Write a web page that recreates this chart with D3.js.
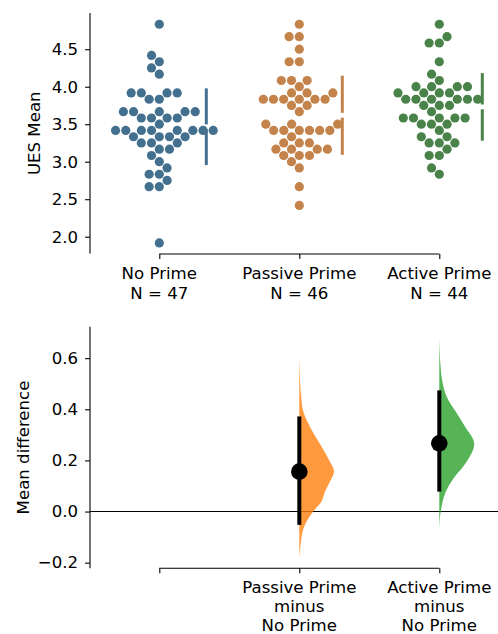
<!DOCTYPE html>
<html>
<head>
<meta charset="utf-8">
<script src="https://cdn.jsdelivr.net/npm/d3@7"></script>
<style>
  html, body { margin: 0; padding: 0; background: #fff; }
  svg { display: block; }
  text { font-family: "DejaVu Sans", sans-serif; fill: #000; }
</style>
</head>
<body>
<svg id="chart" width="498" height="634"></svg>
<script>
// ---------------- DATA ----------------
const categories = ["No Prime", "Passive Prime", "Active Prime"];

const noPrime = [4.833, 4.417, 4.333, 4.25, 4.167,
  3.917, 3.917, 3.917, 3.917, 3.833, 3.833,
  3.667, 3.667, 3.667, 3.667, 3.667, 3.583, 3.583, 3.583, 3.583, 3.5,
  3.417, 3.417, 3.417, 3.417, 3.417, 3.417, 3.417, 3.417, 3.333, 3.333, 3.333, 3.333,
  3.25, 3.25, 3.25, 3.167, 3.167, 3.083, 3.0,
  2.917, 2.833, 2.833, 2.75, 2.667, 2.667, 1.917];

const passivePrime = [4.833, 4.667, 4.667, 4.5, 4.333, 4.333,
  4.083, 4.083, 4.083, 4.0, 3.917, 3.917, 3.917,
  3.833, 3.833, 3.833, 3.833, 3.833, 3.833, 3.75, 3.75, 3.667,
  3.5, 3.5, 3.5, 3.417, 3.417, 3.417, 3.417, 3.417, 3.417, 3.333,
  3.25, 3.25, 3.25, 3.167, 3.167, 3.167, 3.167, 3.083, 3.083, 3.083,
  3.0, 2.917, 2.667, 2.417];

const activePrime = [4.833, 4.667, 4.583, 4.583, 4.333, 4.167, 4.083,
  4.0, 4.0, 4.0, 4.0, 3.917, 3.917, 3.917, 3.917,
  3.833, 3.833, 3.833, 3.833, 3.833, 3.833, 3.75, 3.75, 3.75, 3.667,
  3.583, 3.583, 3.583, 3.583, 3.583, 3.5, 3.5, 3.5, 3.417, 3.333, 3.333,
  3.25, 3.25, 3.25, 3.167, 3.083, 3.083, 2.917, 2.833];

const groupValues = [noPrime, passivePrime, activePrime];

const yTicksTop = [2.0, 2.5, 3.0, 3.5, 4.0, 4.5];
const yTicksBottom = [-0.2, 0.0, 0.2, 0.4, 0.6];

// contrasts (vs No Prime)
const contrastLabels = [["Passive Prime", "minus", "No Prime"], ["Active Prime", "minus", "No Prime"]];
const contrastIndex = [1, 2];
const meanDiff = [0.156, 0.267];
const ciLow = [-0.052, 0.078];
const ciHigh = [0.372, 0.474];

// bootstrap distribution profiles (value, relative density)
const passiveDistValue = [0.613, 0.457, 0.391, 0.326, 0.261, 0.196, 0.157, 0.117, 0.078, 0.039, 0.0, -0.039, -0.078, -0.130, -0.181];
const passiveDistDensity = [0, 0.05, 0.115, 0.33, 0.61, 0.88, 1.0, 0.88, 0.74, 0.64, 0.40, 0.21, 0.095, 0.037, 0];
const activeDistValue = [0.685, 0.581, 0.515, 0.450, 0.385, 0.333, 0.281, 0.254, 0.215, 0.176, 0.137, 0.098, 0.059, 0.020, -0.020, -0.072];
const activeDistDensity = [0, 0.03, 0.08, 0.21, 0.50, 0.74, 0.98, 1.0, 0.88, 0.69, 0.45, 0.26, 0.135, 0.066, 0.02, 0];
const distValues = [passiveDistValue, activeDistValue];
const distDensities = [passiveDistDensity, activeDistDensity];

// ---------------- STYLE / LAYOUT ----------------
const swarmColors = ["#44708f", "#c3834a", "#498349"];
const violinColors = ["#ff7f0e", "#2ca02c"];
const FONT = 16.6;
const barOffset = [47, 43, 43];

const svg = d3.select("#chart");

const x = d3.scalePoint().domain(categories).range([159.3, 439.3]);

// ---------------- TOP PANEL ----------------
const yTop = d3.scaleLinear().domain([1.776, 4.983]).range([253.5, 13]);
const axLeft = 90;

const fmtTick = d => d3.format(".1f")(d).replace("-", "\u2212");

// y axis
const gyTop = svg.append("g").attr("transform", `translate(${axLeft},0)`)
  .call(d3.axisLeft(yTop).tickValues(yTicksTop).tickFormat(fmtTick).tickSize(4.9).tickPadding(7));
gyTop.select(".domain").attr("d", `M0,${yTop.range()[0]}V${yTop.range()[1]}`);

// x axis (trimmed)
const gxTop = svg.append("g").attr("transform", `translate(0,254)`)
  .call(d3.axisBottom(x).tickSize(4.9).tickFormat(""));
gxTop.select(".domain").attr("d", `M${x(categories[0])},0H${x(categories[2])}`);

[gyTop, gxTop].forEach(g => {
  g.selectAll("path, line").attr("stroke", "#000").attr("stroke-width", 1.1);
  g.selectAll("text").attr("font-size", FONT).attr("font-family", "DejaVu Sans");
});

// category labels
categories.forEach((c, i) => {
  const t = svg.append("text").attr("text-anchor", "middle").attr("font-size", FONT);
  t.append("tspan").attr("x", x(c)).attr("y", 279).text(c);
  t.append("tspan").attr("x", x(c)).attr("y", 298.5).text(`N = ${groupValues[i].length}`);
});

svg.append("text").attr("transform", `translate(40,${(13 + 253.5) / 2}) rotate(-90)`)
  .attr("text-anchor", "middle").attr("font-size", FONT).text("UES Mean");

// seaborn-like beeswarm
function beeswarm(values, cx, yScale, r) {
  const pts = values.map(v => ({ v, x: cx, y: yScale(v), r }))
    .sort((a, b) => a.v - b.v);
  const swarm = [];
  for (const p of pts) {
    const neighbors = [];
    for (let k = swarm.length - 1; k >= 0; k--) {
      const q = swarm[k];
      if ((q.y - p.y) < (p.r + q.r)) neighbors.push(q); else break;
    }
    neighbors.reverse();
    const cands = [{ x: p.x }];
    let leftFirst = true;
    for (const q of neighbors) {
      const dy = q.y - p.y;
      const dx = Math.sqrt(Math.max((p.r + q.r) ** 2 - dy ** 2, 0)) * 1.05;
      const cl = { x: q.x - dx }, cr = { x: q.x + dx };
      if (leftFirst) cands.push(cl, cr); else cands.push(cr, cl);
      leftFirst = !leftFirst;
    }
    cands.forEach((c, i) => { c.off = Math.abs(c.x - cx); c.i = i; });
    cands.sort((a, b) => a.off - b.off || a.i - b.i);
    let chosen = cands[0];
    for (const c of cands) {
      const ok = neighbors.every(q => (q.x - c.x) ** 2 + (q.y - p.y) ** 2 >= (q.r + p.r) ** 2 - 1e-9);
      if (ok) { chosen = c; break; }
    }
    swarm.push({ v: p.v, x: chosen.x, y: p.y, r: p.r });
  }
  return swarm;
}

categories.forEach((c, i) => {
  const vals = groupValues[i];
  const mean = d3.mean(vals);
  const sd = d3.deviation(vals);
  const bx = x(c) + barOffset[i];
  const gap = 2.4;
  const g = svg.append("g");
  g.append("line").attr("x1", bx).attr("x2", bx)
    .attr("y1", yTop(mean + sd)).attr("y2", yTop(mean) - gap)
    .attr("stroke", swarmColors[i]).attr("stroke-width", 3);
  g.append("line").attr("x1", bx).attr("x2", bx)
    .attr("y1", yTop(mean) + gap).attr("y2", yTop(mean - sd))
    .attr("stroke", swarmColors[i]).attr("stroke-width", 3);
  const sw = beeswarm(vals, x(c), yTop, 4.85);
  svg.append("g").selectAll("circle").data(sw).join("circle")
    .attr("cx", d => d.x).attr("cy", d => d.y).attr("r", 4.6)
    .attr("fill", swarmColors[i]);
});

// ---------------- BOTTOM PANEL ----------------
const yBot = d3.scaleLinear().domain([-0.222, 0.723]).range([568.3, 326.7]);

const gyBot = svg.append("g").attr("transform", `translate(${axLeft},0)`)
  .call(d3.axisLeft(yBot).tickValues(yTicksBottom).tickFormat(fmtTick).tickSize(4.9).tickPadding(7));
gyBot.select(".domain").attr("d", `M0,${yBot.range()[0]}V${yBot.range()[1]}`);

const gxBot = svg.append("g").attr("transform", `translate(0,568.3)`)
  .call(d3.axisBottom(x).tickSize(4.9).tickFormat(""));
gxBot.select(".domain").attr("d", `M${x(categories[0])},0H${x(categories[2])}`);

[gyBot, gxBot].forEach(g => {
  g.selectAll("path, line").attr("stroke", "#000").attr("stroke-width", 1.1);
  g.selectAll("text").attr("font-size", FONT).attr("font-family", "DejaVu Sans");
});

svg.append("text").attr("transform", `translate(28.5,${(326.7 + 568.3) / 2}) rotate(-90)`)
  .attr("text-anchor", "middle").attr("font-size", FONT).text("Mean difference");

// zero line
svg.append("line").attr("x1", axLeft).attr("x2", 498)
  .attr("y1", yBot(0)).attr("y2", yBot(0)).attr("stroke", "#000").attr("stroke-width", 1.1);

const violinWidth = 34.7;
contrastIndex.forEach((ci, k) => {
  const cx = x(categories[ci]);
  const prof = distValues[k].map((v, j) => ({ v, d: distDensities[k][j] }));
  const area = d3.area()
    .y(d => yBot(d.v))
    .x0(cx)
    .x1(d => cx + d.d * violinWidth)
    .curve(d3.curveCatmullRom);
  svg.append("path").datum(prof).attr("d", area)
    .attr("fill", violinColors[k]).attr("fill-opacity", 0.8);
  svg.append("line").attr("x1", cx).attr("x2", cx)
    .attr("y1", yBot(ciLow[k])).attr("y2", yBot(ciHigh[k]))
    .attr("stroke", "#000").attr("stroke-width", 4);
  svg.append("circle").attr("cx", cx).attr("cy", yBot(meanDiff[k])).attr("r", 8.3).attr("fill", "#000");

  const t = svg.append("text").attr("text-anchor", "middle").attr("font-size", FONT);
  contrastLabels[k].forEach((s, j) => {
    t.append("tspan").attr("x", cx).attr("y", 593 + j * 19.1).text(s);
  });
});
</script>
</body>
</html>
